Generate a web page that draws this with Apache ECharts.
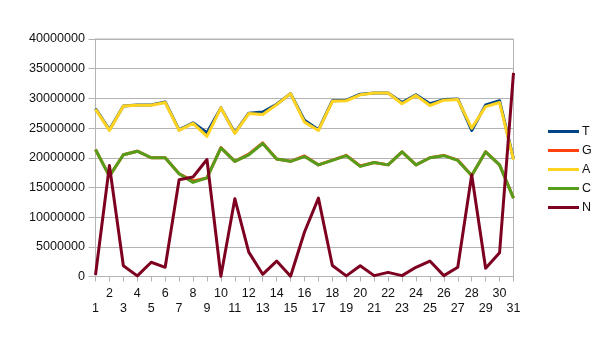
<!DOCTYPE html>
<html>
<head>
<meta charset="utf-8">
<script src="https://cdn.jsdelivr.net/npm/echarts@6/dist/echarts.min.js"></script>
<style>
  html, body { margin: 0; padding: 0; background: #fff; }
  #chart { width: 605px; height: 340px; }
</style>
</head>
<body>
<div id="chart"></div>
<script>
// Positions 1..31 along the sequence
const categories = Array.from({ length: 31 }, (_, i) => String(i + 1));

// Base counts per position
const seriesT = [28300000, 24700000, 28700000, 28900000, 28900000, 29400000, 24700000, 25900000, 24200000, 28400000,
                 24200000, 27500000, 27700000, 29000000, 30800000, 26300000, 24700000, 29600000, 29700000, 30700000,
                 30900000, 30900000, 29300000, 30600000, 29100000, 29800000, 29900000, 24600000, 28900000, 29600000, 19800000];
const seriesG = [21400000, 16900000, 20500000, 21100000, 20000000, 20000000, 17300000, 16100000, 16600000, 21700000,
                 19400000, 20600000, 22500000, 19800000, 19400000, 20300000, 18800000, 19600000, 20400000, 18600000,
                 19200000, 18800000, 21000000, 18800000, 20000000, 20400000, 19600000, 17000000, 21000000, 18800000, 13200000];
const seriesA = [28200000, 24600000, 28700000, 28850000, 28850000, 29300000, 24600000, 25800000, 23600000, 28400000,
                 24100000, 27450000, 27300000, 28950000, 30800000, 26000000, 24600000, 29500000, 29600000, 30600000,
                 30900000, 30900000, 29100000, 30500000, 28800000, 29700000, 29800000, 25000000, 28600000, 29300000, 19700000];
const seriesC = [21400000, 16900000, 20500000, 21100000, 20000000, 20000000, 17300000, 15850000, 16600000, 21650000,
                 19400000, 20500000, 22400000, 19800000, 19400000, 20200000, 18800000, 19550000, 20350000, 18550000,
                 19200000, 18800000, 21000000, 18800000, 20000000, 20350000, 19550000, 17000000, 21000000, 18800000, 13200000];
const seriesN = [250000, 18700000, 1800000, 100000, 2400000, 1550000, 16300000, 16750000, 19700000, 50000,
                 13100000, 4100000, 370000, 2600000, 50000, 7500000, 13200000, 1850000, 100000, 1800000,
                 150000, 700000, 150000, 1550000, 2600000, 150000, 1550000, 17150000, 1400000, 4000000, 34300000];

const yTicks = { min: 0, max: 40000000, interval: 5000000 };

const names = ['T', 'G', 'A', 'C', 'N'];
const colors = ['#004586', '#ff420e', '#ffd320', '#579d1c', '#7e0021'];
const values = [seriesT, seriesG, seriesA, seriesC, seriesN];

const font = '"Liberation Sans", Arial, sans-serif';
const gridColor = '#b3b3b3';

const chart = echarts.init(document.getElementById('chart'), null, { renderer: 'canvas' });

chart.setOption({
  animation: false,
  backgroundColor: '#ffffff',
  color: colors,
  grid: {
    left: 95.5, right: 91.5, top: 39, bottom: 63.5,
    show: true, borderColor: gridColor, borderWidth: 1, backgroundColor: 'transparent'
  },
  legend: {
    orient: 'vertical',
    left: 548, top: 123.5,
    padding: 0,
    itemGap: 3,
    itemWidth: 31,
    itemHeight: 3,
    icon: 'rect',
    data: names,
    textStyle: { fontFamily: font, fontSize: 12.5, color: '#111', lineHeight: 16, padding: [0, 0, 0, -2] }
  },
  xAxis: {
    type: 'category',
    boundaryGap: false,
    data: categories,
    axisLine: { lineStyle: { color: gridColor, width: 1 } },
    axisTick: { show: true, length: 5, interval: 0, lineStyle: { color: gridColor } },
    splitLine: { show: false },
    axisLabel: {
      interval: 0,
      margin: 10,
      fontFamily: font,
      fontSize: 12.5,
      color: '#111',
      lineHeight: 15,
      // odd positions drop to a second row so the labels don't collide
      formatter: (v) => (Number(v) % 2 === 1 ? '\n' + v : v)
    }
  },
  yAxis: {
    type: 'value',
    min: yTicks.min, max: yTicks.max, interval: yTicks.interval,
    axisLine: { show: true, lineStyle: { color: gridColor, width: 1 } },
    axisTick: { show: true, length: 7, lineStyle: { color: gridColor } },
    splitLine: { lineStyle: { color: gridColor, width: 1 } },
    axisLabel: {
      margin: 10.5, fontFamily: font, fontSize: 12.6, color: '#111',
      formatter: (v) => String(v)
    }
  },
  series: names.map((n, i) => ({
    name: n,
    type: 'line',
    data: values[i],
    symbol: 'none',
    lineStyle: { width: 3, color: colors[i], join: 'round' },
    itemStyle: { color: colors[i] }
  }))
});
</script>
</body>
</html>
